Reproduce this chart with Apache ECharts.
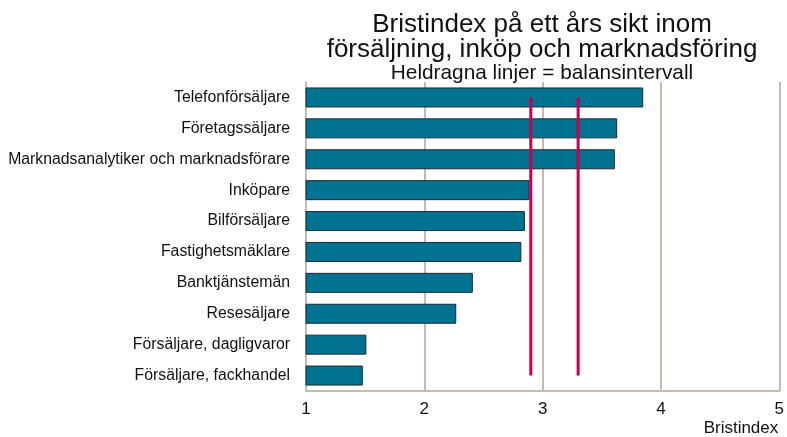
<!DOCTYPE html>
<html>
<head>
<meta charset="utf-8">
<script src="https://cdn.jsdelivr.net/npm/echarts@6/dist/echarts.min.js"></script>
<style>html,body{margin:0;padding:0;background:#fff}#c{width:787px;height:437px}</style>
</head>
<body>
<div id="c"></div>
<script>
const categories = [
  'Telefonförsäljare',
  'Företagssäljare',
  'Marknadsanalytiker och marknadsförare',
  'Inköpare',
  'Bilförsäljare',
  'Fastighetsmäklare',
  'Banktjänstemän',
  'Resesäljare',
  'Försäljare, dagligvaror',
  'Försäljare, fackhandel'
];
const bristindex = [3.85, 3.63, 3.61, 2.89, 2.85, 2.82, 2.41, 2.27, 1.51, 1.48];
const balansLow = 2.9;
const balansHigh = 3.3;
const xTicks = [1, 2, 3, 4, 5];

const font = 'Liberation Sans, Arial, sans-serif';
const chart = echarts.init(document.getElementById('c'));
const first = categories[0], last = categories[categories.length - 1];
chart.setOption({
  animation: false,
  backgroundColor: '#fff',
  title: {
    text: 'Bristindex på ett års sikt inom\nförsäljning, inköp och marknadsföring',
    subtext: 'Heldragna linjer = balansintervall',
    left: 537, top: 8, textAlign: 'center', itemGap: 0,
    textStyle: { fontFamily: font, fontSize: 26, fontWeight: 'normal', color: '#111', lineHeight: 24.5 },
    subtextStyle: { fontFamily: font, fontSize: 20.8, color: '#111', lineHeight: 20 }
  },
  grid: { left: 306, right: 5, top: 82, bottom: 44, containLabel: false },
  xAxis: {
    type: 'value', min: xTicks[0], max: xTicks[xTicks.length - 1], interval: 1,
    name: 'Bristindex', nameLocation: 'end', nameGap: -1,
    nameTextStyle: { fontFamily: font, fontSize: 17, color: '#111', align: 'right', verticalAlign: 'top', padding: [29, 0, 0, 0] },
    axisLine: { show: true, lineStyle: { color: '#c4bcae', width: 2 } },
    axisTick: { show: false },
    axisLabel: { fontFamily: font, fontSize: 17, color: '#111', margin: 10 },
    splitLine: { show: true, lineStyle: { color: '#c4bcae', width: 2 } }
  },
  yAxis: {
    type: 'category', data: categories, inverse: true,
    axisLine: { show: true, lineStyle: { color: '#c4bcae', width: 2 } },
    axisTick: { show: false },
    axisLabel: { fontFamily: font, fontSize: 15.8, color: '#111', margin: 16 }
  },
  series: [
    {
      type: 'bar', data: bristindex, barWidth: 20,
      itemStyle: { color: '#007393', borderColor: '#1c2a30', borderWidth: 1 }
    },
    {
      type: 'line', data: [[balansLow, first], [balansLow, last]], symbol: 'none', z: 5,
      lineStyle: { color: '#c8004f', width: 3 }
    },
    {
      type: 'line', data: [[balansHigh, first], [balansHigh, last]], symbol: 'none', z: 5,
      lineStyle: { color: '#c8004f', width: 3 }
    }
  ]
});
</script>
</body>
</html>
